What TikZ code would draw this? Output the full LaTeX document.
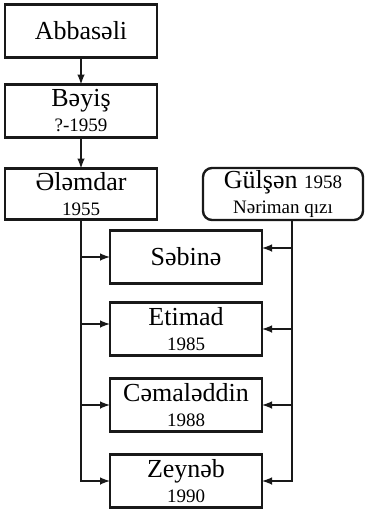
\documentclass[tikz,border=0pt]{standalone}
\usepackage{fontspec}
\setmainfont{Liberation Serif}
\usetikzlibrary{positioning}
\usetikzlibrary{arrows}

\newcommand{\yr}[1]{{\fontsize{19}{20}\selectfont #1}}

\begin{document}
\begin{tikzpicture}[>=latex,x=1pt,y=-1pt,line width=2.4pt,
	person/.style={minimum width=152pt,minimum height=53pt,outer sep=0pt,inner sep=0pt,draw=black!90,align=center,font=\fontsize{26}{25}\selectfont},
	link/.style={->,draw=black!90,shorten >=0pt}]
	\useasboundingbox (0,0) rectangle (367,511);

	\node [person] at (81,31) (abbaseli) {Abbasəli};
	\node [person,below=27pt of abbaseli] (beyis) {Bəyiş\\\yr{?-1959}};
	\node [person,minimum height=51pt,below=31pt of beyis] (elemdar) {Ələmdar\\\yr{1955}};
	\node [person,minimum width=160pt,minimum height=52pt,rounded corners=9pt,right=46pt of elemdar] (gulsen) {Gülşən \yr{1958}\\\yr{Nəriman qızı}};

	\node [person] at (186,257) (sebine) {Səbinə};
	\node [person,below=19pt of sebine] (etimad) {Etimad\\\yr{1985}};
	\node [person,below=23pt of etimad] (cemaleddin) {Cəmaləddin\\\yr{1988}};
	\node [person,below=23pt of cemaleddin] (zeyneb) {Zeynəb\\\yr{1990}};

	\draw [link] (abbaseli) -- (beyis);
	\draw [link] (beyis) -- (elemdar);

	% ata tərəfi
	\draw [link] (elemdar.south) |- (zeyneb.west);
	\draw [link] (elemdar.south |- sebine.west) -- (sebine.west);
	\draw [link] ([yshift=5pt]elemdar.south |- etimad.west) -- ([yshift=5pt]etimad.west);
	\draw [link] (elemdar.south |- cemaleddin.west) -- (cemaleddin.west);

	% ana tərəfi
	\draw [link] ([xshift=9pt]gulsen.south) |- (zeyneb.east);
	\draw [link] ([xshift=9pt,yshift=9pt]gulsen.south |- sebine.east) -- ([yshift=9pt]sebine.east);
	\draw [link] ([xshift=9pt]gulsen.south |- etimad.east) -- (etimad.east);
	\draw [link] ([xshift=9pt]gulsen.south |- cemaleddin.east) -- (cemaleddin.east);
\end{tikzpicture}
\end{document}
